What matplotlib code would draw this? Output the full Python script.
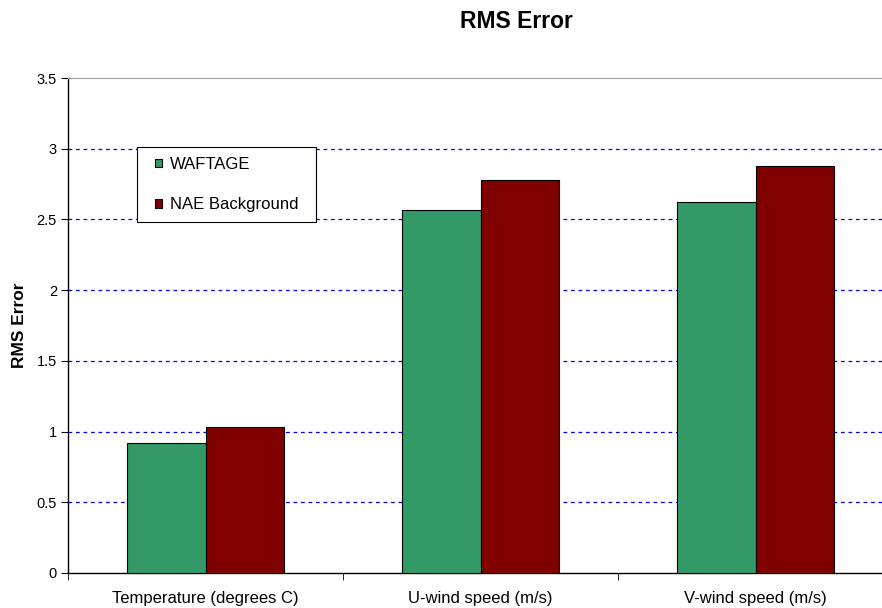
import matplotlib
matplotlib.use('Agg')
import matplotlib.pyplot as plt
from matplotlib.patches import Rectangle
import numpy as np

plt.rcParams['font.family'] = ['Liberation Sans', 'DejaVu Sans']

# RMS error per variable
categories = ['Temperature (degrees C)', 'U-wind speed (m/s)', 'V-wind speed (m/s)']
waftage = [0.92, 2.57, 2.62]
nae_background = [1.03, 2.78, 2.88]
yticks = [0, 0.5, 1, 1.5, 2, 2.5, 3, 3.5]
ytick_labels = ['0', '0.5', '1', '1.5', '2', '2.5', '3', '3.5']

W, H = 882, 608
fig = plt.figure(figsize=(W/100, H/100), dpi=100)
ax = fig.add_axes([68/W, 1 - 573/H, 825/W, 495/H])

x = np.arange(len(categories))
w = 0.284
ax.bar(x - w/2, waftage, width=w, color='#339966', edgecolor='black', linewidth=0.8, label='WAFTAGE', zorder=3)
ax.bar(x + w/2, nae_background, width=w, color='#800000', edgecolor='black', linewidth=0.8, label='NAE Background', zorder=3)

ax.set_xlim(-0.5, len(categories) - 0.5)
ax.set_ylim(0, 3.5)

# dashed grid lines, top line solid gray
for y in yticks[1:-1]:
    ax.axhline(y, color='#0000ff', linestyle=(0, (3, 3)), linewidth=0.9, zorder=1)

ax.set_yticks(yticks)
ax.set_yticklabels(ytick_labels)
ax.set_xticks(x)
ax.set_xticklabels(categories)
ax.set_xticks(np.arange(-0.5, len(categories)), minor=True)
ax.tick_params(axis='x', which='major', length=0, labelsize=12, pad=13)
ax.tick_params(axis='x', which='minor', length=5, direction='out', color='black')
ax.tick_params(axis='y', length=5, direction='out', labelsize=10.5, pad=3, color='black')

ax.spines['top'].set_color('#a0a0a0')
ax.spines['right'].set_visible(False)
ax.spines['left'].set_linewidth(1.0)
ax.spines['bottom'].set_linewidth(1.0)

ax.set_ylabel('RMS Error', fontsize=12.5, fontweight='bold', labelpad=7)
fig.text(516/W, 1 - 21/H, 'RMS Error', fontsize=16.5, fontweight='bold', ha='center', va='center')

# legend box
ax.add_patch(Rectangle((137/W, 1 - 222/H), 179/W, 75/H, transform=fig.transFigure, clip_on=False,
                       facecolor='white', edgecolor='black', linewidth=0.8, zorder=5))
leg = ax.legend(loc='upper left', bbox_to_anchor=(155/W, 1 - 157/H), bbox_transform=fig.transFigure,
                frameon=False, fontsize=12,
                handlelength=0.4, handleheight=0.4, handletextpad=0.5,
                labelspacing=1.52, borderpad=0, borderaxespad=0)
leg.set_zorder(6)

fig.savefig('out.png', dpi=100)
